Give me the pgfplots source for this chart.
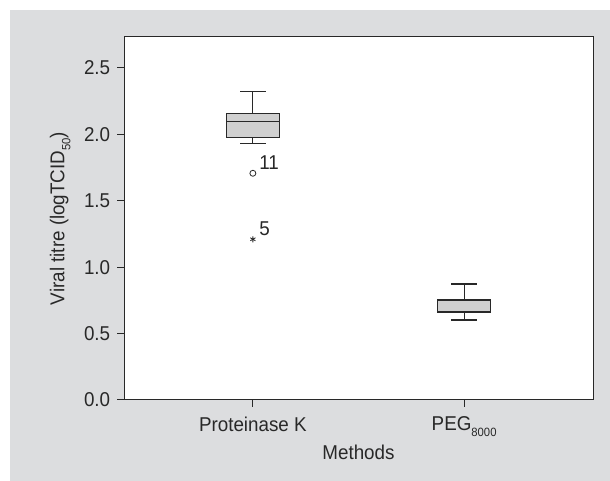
\documentclass[border=0pt]{standalone}
\usepackage{fontspec}
\setmainfont{Liberation Sans}[FakeStretch=0.94]
\usepackage{pgfplots}
\pgfplotsset{compat=1.18}
\usepgfplotslibrary{statistics}
\definecolor{bg}{RGB}{220,221,223}
\definecolor{boxfill}{RGB}{208,208,208}
\definecolor{axcol}{RGB}{40,40,40}
\newcommand{\sub}[1]{\raisebox{-0.3em}{\fontsize{12bp}{12bp}\selectfont #1}}
\begin{document}
\fontsize{20bp}{23bp}\selectfont
\begin{tikzpicture}[x=1bp,y=1bp]
\path[use as bounding box] (0,0) rectangle (610,481);
\fill[bg] (10,0) rectangle (610,471);
\fill[white] (124,81) rectangle (593,444);
\begin{axis}[at={(124bp,81bp)}, anchor=south west, scale only axis,
  width=469bp, height=363bp,
  xmin=0.39, xmax=2.61, ymin=0, ymax=2.733,
  xtick={1,2}, xticklabels={Proteinase K, PEG\sub{8000}},
  ytick={0,0.5,1,1.5,2,2.5},
  yticklabel style={/pgf/number format/fixed, /pgf/number format/fixed zerofill, /pgf/number format/precision=1},
  /pgf/number format/assume math mode=true,
  tick align=outside, xtick pos=bottom, ytick pos=left, major tick length=7bp,
  axis line style={axcol, line width=1bp}, tick style={axcol, line width=1bp},
  ticklabel style={text=axcol},
  xticklabel style={yshift=-3bp},
  label style={text=axcol},
  xlabel style={yshift=5bp},
  xlabel={Methods}, ylabel={Viral titre (logTCID\sub{50})},
  boxplot/draw direction=y,
]
\addplot[boxplot prepared={median=2.096, upper quartile=2.154, lower quartile=1.978,
  upper whisker=2.32, lower whisker=1.933, draw position=1, box extend=0.25, whisker extend=0.12},
  draw=axcol, fill=boxfill, line width=1.2bp, mark=none] coordinates {};
\addplot[boxplot prepared={median=0.665, upper quartile=0.753, lower quartile=0.66,
  upper whisker=0.873, lower whisker=0.602, draw position=2, box extend=0.25, whisker extend=0.12},
  draw=axcol, fill=boxfill, line width=1.2bp, mark=none] coordinates {};
\addplot[only marks, mark=o, mark size=3bp, axcol, line width=0.8bp,
  point meta=explicit symbolic, nodes near coords,
  nodes near coords style={anchor=base west, inner sep=0pt, xshift=6bp, yshift=4bp, text=axcol, font=\fontsize{20bp}{23bp}\selectfont}]
  coordinates {(1,1.707) [11]};
\addplot[only marks, mark=asterisk, mark size=3bp, axcol, line width=0.8bp,
  point meta=explicit symbolic, nodes near coords,
  nodes near coords style={anchor=base west, inner sep=0pt, xshift=6bp, yshift=4bp, text=axcol, font=\fontsize{20bp}{23bp}\selectfont}]
  coordinates {(1,1.21) [5]};
\end{axis}
\end{tikzpicture}
\end{document}
